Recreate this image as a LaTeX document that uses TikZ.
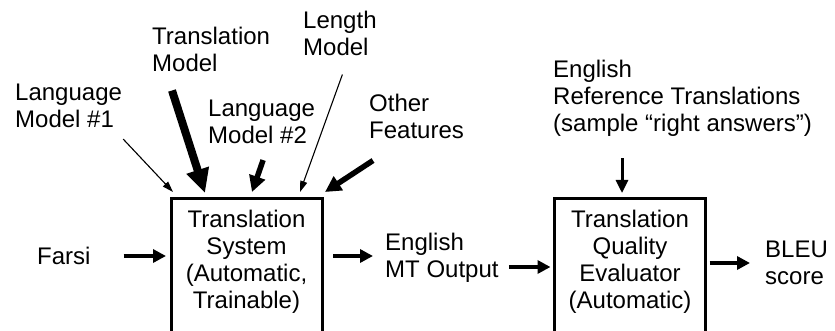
\documentclass[tikz,border=0pt]{standalone}
\usepackage{fontspec}
\setmainfont{Liberation Sans}
\usetikzlibrary{arrows.meta}

\begin{document}
\begin{tikzpicture}[
  x=1pt, y=-1pt,
  lbl/.style={font=\fontsize{24}{27}\selectfont, align=left, inner sep=0pt, anchor=west},
  sysbox/.style={rectangle, draw, line width=3pt, outer sep=0pt, minimum width=151pt, inner ysep=11pt, text depth=140pt, align=center, anchor=north, font=\fontsize{24}{27}\selectfont},
  flow/.style={-{Triangle[length=13pt,width=13pt]}, line width=4pt},
  thinarrow/.style={-{Triangle[length=11pt,width=7pt]}, line width=1.1pt},
  fatarrow/.style={-{Triangle[length=24pt,width=22pt]}, line width=8pt},
  midarrow/.style={-{Triangle[length=16pt,width=16pt]}, line width=5.5pt},
  refarrow/.style={-{Triangle[length=13pt,width=12pt]}, line width=3pt}
]
  \useasboundingbox (0,0) rectangle (835,331);

  \node[sysbox] (sys) at (246.5,199) {Translation\\System\\(Automatic,\\Trainable)};
  \node[sysbox] (evl) at (630,199) {Translation\\Quality\\Evaluator\\(Automatic)};

  \node[lbl] (farsi) at (37,256) {Farsi};
  \node[lbl] (mt) at (385,258) {English\\MT Output};
  \node[lbl] (bleu) at (765,263) {BLEU\\score};

  \node[lbl] (lm1) at (15,106) {Language\\Model \#1};
  \node[lbl] (tm) at (152,49) {Translation\\Model};
  \node[lbl] (len) at (303,33) {Length\\Model};
  \node[lbl] (lm2) at (208,122) {Language\\Model \#2};
  \node[lbl] (oth) at (369,116) {Other\\Features};
  \node[lbl] (ref) at (553,98) {English\\Reference Translations\\(sample “right answers”)};

  \draw[thinarrow] ([xshift=1pt,yshift=-11pt]lm1.south east) -- ([xshift=2pt,yshift=7pt]sys.north west);
  \draw[fatarrow] ([xshift=20pt,yshift=-19pt]tm.south west) -- ([xshift=34pt,yshift=6pt]sys.north west);
  \draw[midarrow] ([xshift=1.5pt,yshift=-16pt]lm2.south) -- ([xshift=5.5pt,yshift=7pt]sys.north);
  \draw[thinarrow] ([xshift=2.5pt,yshift=-19pt]len.south) -- ([xshift=-22pt,yshift=7pt]sys.north east);
  \draw[midarrow] ([xshift=4pt,yshift=-22pt]oth.south west) -- ([xshift=3pt,yshift=7pt]sys.north east);
  \draw[refarrow, shorten <=22pt] ([xshift=-8pt]evl.north |- ref.south) -- ([xshift=-8pt,yshift=6pt]evl.north);

  \draw[flow, shorten <=33pt, shorten >=5pt] (farsi.east) -- (farsi.east -| sys.west);
  \draw[flow, shorten <=11pt, shorten >=12pt] (farsi.east -| sys.east) -- (farsi.east -| mt.west);
  \draw[flow, shorten <=10pt, shorten >=4pt] ([yshift=-9pt]mt.east) -- ([yshift=-9pt]mt.east -| evl.west);
  \draw[flow, shorten <=4pt, shorten >=15pt] (bleu.west -| evl.east) -- (bleu.west);
\end{tikzpicture}
\end{document}
